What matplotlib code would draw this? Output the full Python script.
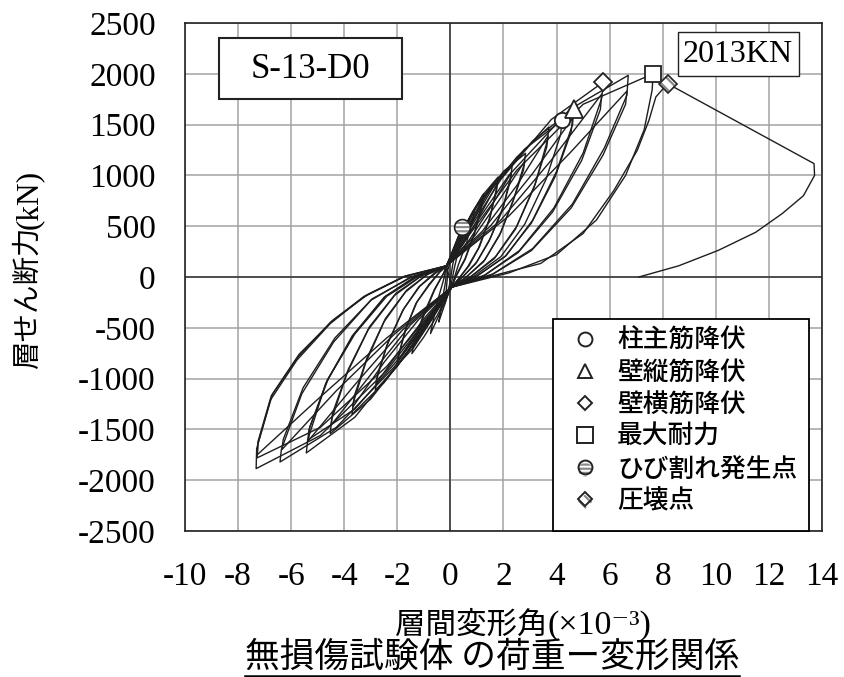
import matplotlib
matplotlib.use('Agg')
import matplotlib.pyplot as plt
from matplotlib.lines import Line2D
from matplotlib.patches import Rectangle
from matplotlib.font_manager import FontProperties

plt.rcParams['font.family'] = ['Liberation Serif', 'DejaVu Serif', 'Noto Sans CJK JP']
plt.rcParams['axes.unicode_minus'] = False
plt.rcParams['hatch.color'] = '#8a8a8a'
plt.rcParams['hatch.linewidth'] = 1.6

JP = ['Noto Sans CJK JP', 'DejaVu Sans']
SERIF = ['Liberation Serif', 'DejaVu Serif', 'Noto Sans CJK JP']

# hysteresis loops, first cycle at each amplitude (drift x10^-3, shear kN)
loops_x = [
    [-0.1, 0.08, 0.2, 0.18, 0.08, -0.02, -0.1, -0.2, -0.18, -0.12, -0.1],
    [-0.15, 0.15, 0.44, 0.41, 0.3, 0.15, 0.02, -0.2, -0.44, -0.41, -0.3, -0.18, -0.15],
    [-0.15, 0.3, 0.9, 0.86, 0.6, 0.3, 0.05, -0.35, -0.75, -0.71, -0.5, -0.25, -0.15],
    [-0.15, 0.4, 0.85, 1.26, 1.21, 0.9, 0.55, 0.2, 0.05, -0.5, -1.0, -1.45, -1.4, -1.0, -0.6, -0.25, -0.15],
    [-0.15, 0.6, 1.2, 1.8, 1.75, 1.5, 1.1, 0.7, 0.3, 0.05, -0.7, -1.4, -2.01, -1.96, -1.7, -1.3, -0.8, -0.4, -0.15],
    [-0.15, 0.8, 1.6, 2.33, 2.28, 2.0, 1.5, 1.0, 0.5, 0.05, -1.0, -2.0, -2.83, -2.78, -2.4, -1.8, -1.2, -0.6, -0.15],
    [-0.15, 1.0, 2.0, 2.83, 2.78, 2.4, 1.9, 1.3, 0.6, 0.05, -1.2, -2.5, -3.71, -3.65, -3.2, -2.5, -1.7, -0.9, -0.15],
    [-0.15, 1.2, 2.5, 3.71, 3.66, 3.2, 2.5, 1.7, 0.8, 0.05, -1.5, -3.0, -4.53, -4.47, -3.9, -3.1, -2.1, -1.1, -0.15],
    [-0.15, 1.4, 2.8, 4.21, 4.15, 3.6, 2.8, 1.9, 0.9, 0.05, -1.8, -3.6, -5.43, -5.38, -4.7, -3.7, -2.5, -1.3, -0.15],
    [-0.15, 1.6, 3.1, 4.65, 4.6, 4.0, 3.1, 2.1, 1.0, 0.05, -1.8, -3.6, -5.35, -5.3, -4.6, -3.6, -2.4, -1.2, -0.15],
    [-0.15, 1.9, 3.8, 5.76, 5.7, 5.0, 3.9, 2.6, 1.3, 0.05, -2.1, -4.3, -6.42, -6.37, -5.6, -4.4, -3.0, -1.5, -0.15],
    [-0.15, 2.2, 4.5, 6.7, 6.65, 5.8, 4.6, 3.1, 1.6, 0.05, -2.4, -4.9, -7.32, -7.3, -6.79, -5.79, -4.53, -3.27, -1.76, -0.15],
    [-0.15, 2.5, 5.0, 7.64, 7.6, 7.3, 6.6, 5.5, 4.0, 2.2, 0.05, -2.4, -4.9, -7.28, -7.25, -6.7, -5.7, -4.4, -3.1, -1.7, -0.15],
]
loops_y = [
    [80, 200, 300, 250, 110, -60, -150, -250, -200, -20, 80],
    [100, 300, 492, 440, 260, 90, -80, -260, -443, -390, -220, -40, 100],
    [110, 400, 650, 590, 330, 120, -90, -330, -557, -500, -250, -20, 110],
    [110, 430, 650, 821, 740, 430, 180, 10, -100, -380, -590, -754, -680, -380, -130, 40, 110],
    [110, 520, 800, 985, 890, 590, 300, 110, -20, -100, -420, -700, -869, -790, -520, -260, -80, 50, 110],
    [110, 620, 920, 1100, 1000, 700, 380, 150, 10, -100, -520, -880, -1115, -1010, -680, -330, -100, 40, 110],
    [110, 700, 1040, 1217, 1110, 780, 440, 170, 0, -100, -600, -1040, -1352, -1230, -850, -440, -150, 20, 110],
    [110, 760, 1180, 1477, 1350, 920, 500, 200, 10, -100, -700, -1200, -1542, -1400, -950, -520, -180, 10, 110],
    [110, 820, 1260, 1542, 1400, 960, 520, 200, 10, -100, -800, -1380, -1732, -1607, -1050, -580, -200, 10, 110],
    [110, 880, 1340, 1657, 1500, 1040, 560, 210, 10, -100, -760, -1300, -1600, -1480, -1000, -560, -190, 10, 110],
    [110, 960, 1550, 1919, 1760, 1220, 680, 260, 20, -100, -880, -1480, -1821, -1699, -1150, -640, -230, 0, 110],
    [110, 1000, 1650, 1985, 1790, 1270, 720, 280, 30, -100, -920, -1560, -1886, -1689, -1214, -820, -459, -197, 0, 110],
    [110, 1050, 1700, 2001, 1840, 1450, 1000, 560, 220, 40, -100, -880, -1480, -1780, -1640, -1150, -760, -420, -170, 10, 110],
]
# repeated (second) cycles at the same amplitudes
loops2_x = [
    [-0.15, 0.4, 0.8, 1.22, 1.18, 0.9, 0.55, 0.2, 0.05, -0.4, -0.9, -1.42, -1.38, -1.0, -0.6, -0.25, -0.15],
    [-0.15, 0.5, 1.1, 1.77, 1.73, 1.45, 1.05, 0.65, 0.3, 0.05, -0.6, -1.3, -1.98, -1.94, -1.65, -1.25, -0.8, -0.4, -0.15],
    [-0.15, 0.7, 1.5, 2.3, 2.25, 1.95, 1.45, 0.95, 0.45, 0.05, -0.9, -1.9, -2.8, -2.75, -2.35, -1.75, -1.15, -0.55, -0.15],
    [-0.15, 0.9, 1.9, 2.8, 2.75, 2.35, 1.85, 1.25, 0.55, 0.05, -1.2, -2.5, -3.68, -3.62, -3.15, -2.45, -1.65, -0.85, -0.15],
    [-0.15, 1.2, 2.5, 3.68, 3.63, 3.15, 2.45, 1.65, 0.75, 0.05, -1.5, -3.0, -4.5, -4.44, -3.85, -3.05, -2.05, -1.05, -0.15],
    [-0.15, 1.5, 3.1, 4.6, 4.55, 3.95, 3.05, 2.05, 0.95, 0.05, -1.8, -3.6, -5.38, -5.33, -4.65, -3.65, -2.45, -1.25, -0.15],
    [-0.15, 1.9, 3.8, 5.7, 5.65, 4.95, 3.85, 2.55, 1.25, 0.05, -2.1, -4.3, -6.35, -6.3, -5.55, -4.35, -2.95, -1.45, -0.15],
    [-0.15, 2.2, 4.5, 6.65, 6.6, 5.75, 4.55, 3.05, 1.55, 0.05, -2.4, -4.9, -7.28, -7.25, -6.75, -5.75, -4.5, -3.25, -1.75, -0.15],
]
loops2_y = [
    [110, 300, 520, 760, 700, 420, 170, 0, -100, -290, -480, -700, -640, -360, -120, 40, 110],
    [110, 330, 600, 920, 840, 560, 280, 100, -20, -100, -330, -560, -820, -750, -490, -240, -70, 50, 110],
    [110, 360, 680, 1030, 940, 650, 350, 130, 0, -100, -380, -720, -1050, -960, -640, -310, -90, 40, 110],
    [110, 400, 780, 1140, 1050, 740, 410, 150, -10, -100, -420, -840, -1280, -1170, -800, -410, -130, 30, 110],
    [110, 450, 900, 1390, 1280, 880, 470, 180, 0, -100, -470, -960, -1460, -1340, -910, -490, -160, 20, 110],
    [110, 500, 1020, 1560, 1430, 990, 530, 200, 0, -100, -520, -1060, -1620, -1500, -1020, -570, -190, 10, 110],
    [110, 560, 1150, 1800, 1650, 1150, 640, 240, 10, -100, -560, -1120, -1699, -1600, -1090, -600, -215, 0, 110],
    [110, 600, 1220, 1830, 1700, 1200, 680, 260, 20, -100, -600, -1180, -1750, -1620, -1170, -790, -440, -190, 5, 110],
]
# last push to failure and unloading
final_x = [-0.15, 0.05, 1.9, 3.4, 5.0, 6.16, 7.04, 7.48, 7.74, 8.18, 13.7, 13.72, 13.3, 12.5, 11.5, 10.1, 8.6, 7.1]
final_y = [110, -100, 33, 133, 428, 852, 1247, 1542, 1772, 1903, 1116, 1000, 800, 624, 440, 263, 110, 0]

# event points
event_labels = ['柱主筋降伏', '壁縦筋降伏', '壁横筋降伏', '最大耐力', 'ひび割れ発生点', '圧壊点']
event_x = [4.21, 4.65, 5.76, 7.64, 0.44, 8.18]
event_y = [1542, 1657, 1919, 2001, 492, 1903]

x_ticks = list(range(-10, 15, 2))
y_ticks = list(range(-2500, 2501, 500))

W, H = 845, 677
def fx(px):
    return px / W
def fy(py):
    return 1 - py / H

fig = plt.figure(figsize=(8.45, 6.77), dpi=100)
ax = fig.add_axes([fx(185), fy(531), (822 - 185) / W, (531 - 23) / H])
ax.set_xlim(-10, 14)
ax.set_ylim(-2500, 2500)
ax.set_xticks(x_ticks)
ax.set_yticks(y_ticks)
ax.grid(color='#a3a3a3', lw=1.1)
ax.set_axisbelow(True)
ax.axhline(0, color='#3c3c3c', lw=1.2, zorder=1.5)
ax.axvline(0, color='#3c3c3c', lw=1.2, zorder=1.5)
for s in ax.spines.values():
    s.set_linewidth(1.2)
    s.set_color('#222222')
ax.tick_params(length=0, labelsize=24)
ax.tick_params(axis='x', pad=22)
ax.tick_params(axis='y', pad=21)

for lx, ly in zip(loops_x + loops2_x, loops_y + loops2_y):
    ax.plot(lx, ly, color='#1e1e1e', lw=1.0, zorder=2)
ax.plot(final_x, final_y, color='#1e1e1e', lw=1.0, zorder=2)

ec = '#222222'
ax.plot(event_x[0], event_y[0], 'o', ms=11, mfc='white', mec=ec, mew=1.3, zorder=4)
ax.plot(event_x[1], event_y[1], '^', ms=13, mfc='white', mec=ec, mew=1.3, zorder=4)
ax.plot(event_x[2], event_y[2], 'D', ms=9, mfc='white', mec=ec, mew=1.3, zorder=4)
ax.plot(event_x[3], event_y[3], 's', ms=12, mfc='white', mec=ec, mew=1.3, zorder=4)
# hatched markers: grey stripes, dark outline on top
ax.scatter(event_x[4], event_y[4], marker='o', s=130, facecolor='white', edgecolor='#8a8a8a',
           linewidth=0, hatch='----', zorder=4)
ax.plot(event_x[4], event_y[4], 'o', ms=11.4, mfc='none', mec=ec, mew=1.2, zorder=5)
ax.scatter(event_x[5], event_y[5], marker='D', s=80, facecolor='white', edgecolor='#8a8a8a',
           linewidth=0, hatch='\\\\\\', zorder=4)
ax.plot(event_x[5], event_y[5], 'D', ms=8.9, mfc='none', mec=ec, mew=1.2, zorder=5)

# legend proxies
hc = ax.scatter([], [], marker='o', s=100, facecolor='white', edgecolor='#8a8a8a', linewidth=0, hatch='----')
hd = ax.scatter([], [], marker='D', s=55, facecolor='white', edgecolor='#8a8a8a', linewidth=0, hatch='\\\\\\')
oc = Line2D([], [], ls='none', marker='o', ms=10, mfc='none', mec=ec, mew=1.4)
od = Line2D([], [], ls='none', marker='D', ms=7.4, mfc='none', mec=ec, mew=1.4)
handles = [
    Line2D([], [], ls='none', marker='o', ms=10, mfc='white', mec=ec, mew=1.4),
    Line2D([], [], ls='none', marker='^', ms=10, mfc='white', mec=ec, mew=1.4),
    Line2D([], [], ls='none', marker='D', ms=7, mfc='white', mec=ec, mew=1.4),
    Line2D([], [], ls='none', marker='s', ms=11, mfc='white', mec=ec, mew=1.4),
    (hc, oc),
    (hd, od),
]
# legend frame runs down to the axes bottom (cut off like the original)
ax.add_patch(Rectangle((fx(553), fy(531)), (809 - 553) / W, (531 - 319) / H, transform=fig.transFigure,
                       facecolor='white', edgecolor='black', lw=1.3, zorder=4.8, clip_on=False))
leg = ax.legend(handles, event_labels, loc='upper left', bbox_to_anchor=(fx(553), fy(319)),
                bbox_transform=fig.transFigure, prop=FontProperties(family=JP, size=18.5, weight='medium'),
                frameon=False, borderpad=0.3, labelspacing=0.2, handlelength=1.9, handletextpad=0.3,
                borderaxespad=0, scatterpoints=1)
leg.set_zorder(5)

# specimen and peak-load boxes
fig.add_artist(Rectangle((fx(219), fy(99)), (402 - 219) / W, (99 - 38) / H, transform=fig.transFigure,
                         facecolor='white', edgecolor='#222222', lw=1.5, zorder=3))
fig.text(fx(310), fy(70), 'S-13-D0', ha='center', va='center', fontsize=25, family=SERIF, zorder=4)
fig.add_artist(Rectangle((fx(678), fy(76)), (799 - 678) / W, (76 - 32) / H, transform=fig.transFigure,
                         facecolor='white', edgecolor='#222222', lw=1.0, zorder=3))
fig.text(fx(738), fy(54), '2013KN', ha='center', va='center', fontsize=23, family=SERIF, zorder=4)

# axis titles: Japanese part in sans, unit part in serif
fig.text(fx(28), fy(298), '層せん断力', rotation=90, ha='center', va='center', fontsize=20.5, family=JP)
fig.text(fx(29), fy(199), '(kN)', rotation=90, ha='center', va='center', fontsize=22.5, family=SERIF)
fig.text(fx(548), fy(634), '層間変形角', ha='right', va='baseline', fontsize=22, family=JP)
fig.text(fx(548), fy(634), '(×10⁻³)', ha='left', va='baseline', fontsize=24.5, family=SERIF)
title = fig.text(fx(492), fy(657), '無損傷試験体 の荷重ー変形関係', ha='center', va='center',
                 fontsize=25, family=JP)

fig.canvas.draw()
bb = title.get_window_extent()
fig.add_artist(Line2D([bb.x0 / W, bb.x1 / W], [(bb.y0 - 1) / H, (bb.y0 - 1) / H],
                      transform=fig.transFigure, color='black', lw=1.8))

fig.savefig('out.png', dpi=100)
